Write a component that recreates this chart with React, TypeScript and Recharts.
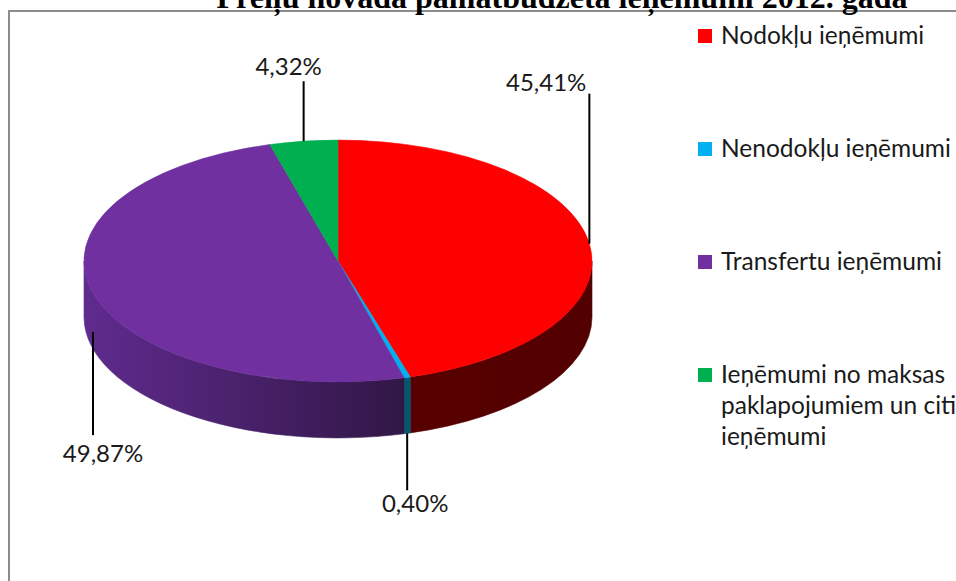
import { Cell, Legend, Pie, PieChart } from "recharts";

const categories = [
  "Nodokļu ieņēmumi",
  "Nenodokļu ieņēmumi",
  "Transfertu ieņēmumi",
  "Ieņēmumi no maksas paklapojumiem un citi ieņēmumi",
];
const shares = [45.41, 0.4, 49.87, 4.32];

const topColors = ["#FF0000", "#00B0F0", "#7030A0", "#00B050"];
const wallColors = [
  ["#580000", "#520000"],
  ["#005c74", "#00566d"],
  ["#5f2b8e", "#311746"],
  ["#005a2c", "#004a24"],
];

const data = categories.map((name, i) => ({ name, value: shares[i] }));

const FONT = "Lato, 'Open Sans', sans-serif";
const TILT = 0.476; // ellipse ry / rx
const DEPTH = 56;
const RAD = Math.PI / 180;

// leader line per slice: start on wall (fraction of depth), signed length, text offsets
const leaders = [
  { wall: 0, len: -150, dx: -3, dy: -3, anchor: "end" },
  { wall: 1, len: 57, dx: 8, dy: 22, anchor: "middle" },
  { wall: 0.7, len: 103, dx: 10, dy: 27, anchor: "middle" },
  { wall: 0, len: -60, dx: -15, dy: -6, anchor: "middle" },
];

function ellipsePoint(cx: number, cy: number, rx: number, a: number) {
  return [cx + rx * Math.cos(a * RAD), cy - rx * TILT * Math.sin(a * RAD)];
}

function TopFace(props: any) {
  const { cx, cy, outerRadius, startAngle, endAngle, fill } = props;
  const ry = outerRadius * TILT;
  const [x1, y1] = ellipsePoint(cx, cy, outerRadius, startAngle);
  const [x2, y2] = ellipsePoint(cx, cy, outerRadius, endAngle);
  const large = Math.abs(startAngle - endAngle) > 180 ? 1 : 0;
  const sweep = startAngle > endAngle ? 1 : 0;
  return (
    <path
      d={`M${cx},${cy} L${x1},${y1} A${outerRadius},${ry} 0 ${large} ${sweep} ${x2},${y2} Z`}
      fill={fill}
      stroke={fill}
      strokeWidth={0.6}
    />
  );
}

function SideWall(props: any) {
  const { cx, cy, outerRadius, startAngle, endAngle, index } = props;
  const hi = Math.min(Math.max(startAngle, endAngle), 0);
  const lo = Math.max(Math.min(startAngle, endAngle), -180);
  if (lo >= hi) return null;
  const ry = outerRadius * TILT;
  const [x1, y1] = ellipsePoint(cx, cy, outerRadius, hi);
  const [x2, y2] = ellipsePoint(cx, cy, outerRadius, lo);
  const id = `wall-${index}`;
  const [left, right] = wallColors[index];
  return (
    <g>
      <defs>
        <linearGradient id={id} x1="0" y1="0" x2="1" y2="0">
          <stop offset="0" stopColor={left} />
          <stop offset="1" stopColor={right} />
        </linearGradient>
      </defs>
      <path
        d={`M${x1},${y1} A${outerRadius},${ry} 0 0 1 ${x2},${y2} L${x2},${y2 + DEPTH} A${outerRadius},${ry} 0 0 0 ${x1},${y1 + DEPTH} Z`}
        fill={`url(#${id})`}
        stroke={`url(#${id})`}
        strokeWidth={0.6}
      />
    </g>
  );
}

function renderLabel(props: any) {
  const { cx, cy, outerRadius, midAngle, index, value } = props;
  const l = leaders[index];
  const [x, y] = ellipsePoint(cx, cy, outerRadius, midAngle);
  const y0 = y + l.wall * DEPTH;
  const y1 = y0 + l.len;
  return (
    <g>
      <line x1={x} y1={y0} x2={x} y2={y1} stroke="#000" strokeWidth={2} />
      <text
        x={x + l.dx}
        y={y1 + l.dy}
        textAnchor={l.anchor}
        fontFamily={FONT}
        fontSize={24}
        fill="#1a1a1a"
      >
        {value.toFixed(2).replace(".", ",")}%
      </text>
    </g>
  );
}

function LegendList(props: any) {
  const seen = new Set();
  const items = (props.payload ?? [])
    .filter((p: any) => {
      if (seen.has(p.value)) return false;
      seen.add(p.value);
      return categories.includes(p.value);
    })
    .sort((a: any, b: any) => categories.indexOf(a.value) - categories.indexOf(b.value));
  return (
    <div style={{ fontFamily: FONT, fontSize: 24.5, color: "#1a1a1a" }}>
      {items.map((item: any) => (
        <div key={item.value} style={{ display: "flex", alignItems: "flex-start", height: 113 }}>
          <span
            style={{
              width: 14,
              height: 14,
              marginTop: 10,
              marginRight: 9,
              flexShrink: 0,
              background: topColors[categories.indexOf(item.value)],
            }}
          />
          <span style={{ lineHeight: "31px", width: 262, whiteSpace: "normal" }}>{item.value}</span>
        </div>
      ))}
    </div>
  );
}

export default function App() {
  return (
    <div
      style={{
        position: "absolute",
        left: 0,
        top: 0,
        width: 956,
        height: 581,
        overflow: "hidden",
        background: "#fff",
      }}
    >
      <div
        style={{
          position: "absolute",
          left: 8,
          top: 10,
          width: 1100,
          height: 1100,
          border: "2px solid #8c8c8c",
        }}
      />
      <svg width={956} height={20} style={{ position: "absolute", left: 0, top: 0 }}>
        <text
          x={562}
          y={8}
          textAnchor="middle"
          fontFamily="'Liberation Serif', 'Times New Roman', serif"
          fontWeight="bold"
          fontSize={32}
          fill="#000"
        >
          Preiļu novada pamatbudžeta ieņēmumi 2012. gadā
        </text>
      </svg>
      <div style={{ position: "absolute", left: 0, top: 0 }}>
        <PieChart width={956} height={581} margin={{ top: 0, right: 0, bottom: 0, left: 0 }}>
          <Pie
            data={data}
            dataKey="value"
            nameKey="name"
            cx={338}
            cy={261}
            outerRadius={254}
            startAngle={90}
            endAngle={-270}
            shape={SideWall}
            legendType="none"
            isAnimationActive={false}
          >
            {data.map((d, i) => (
              <Cell key={d.name} fill={wallColors[i][0]} />
            ))}
          </Pie>
          <Pie
            data={data}
            dataKey="value"
            nameKey="name"
            cx={338}
            cy={261}
            outerRadius={254}
            startAngle={90}
            endAngle={-270}
            shape={TopFace}
            label={renderLabel}
            labelLine={false}
            isAnimationActive={false}
          >
            {data.map((d, i) => (
              <Cell key={d.name} fill={topColors[i]} />
            ))}
          </Pie>
          <Legend
            layout="vertical"
            align="right"
            verticalAlign="top"
            content={LegendList}
            wrapperStyle={{ top: 19, left: 698, right: "auto", width: 300 }}
          />
        </PieChart>
      </div>
    </div>
  );
}
